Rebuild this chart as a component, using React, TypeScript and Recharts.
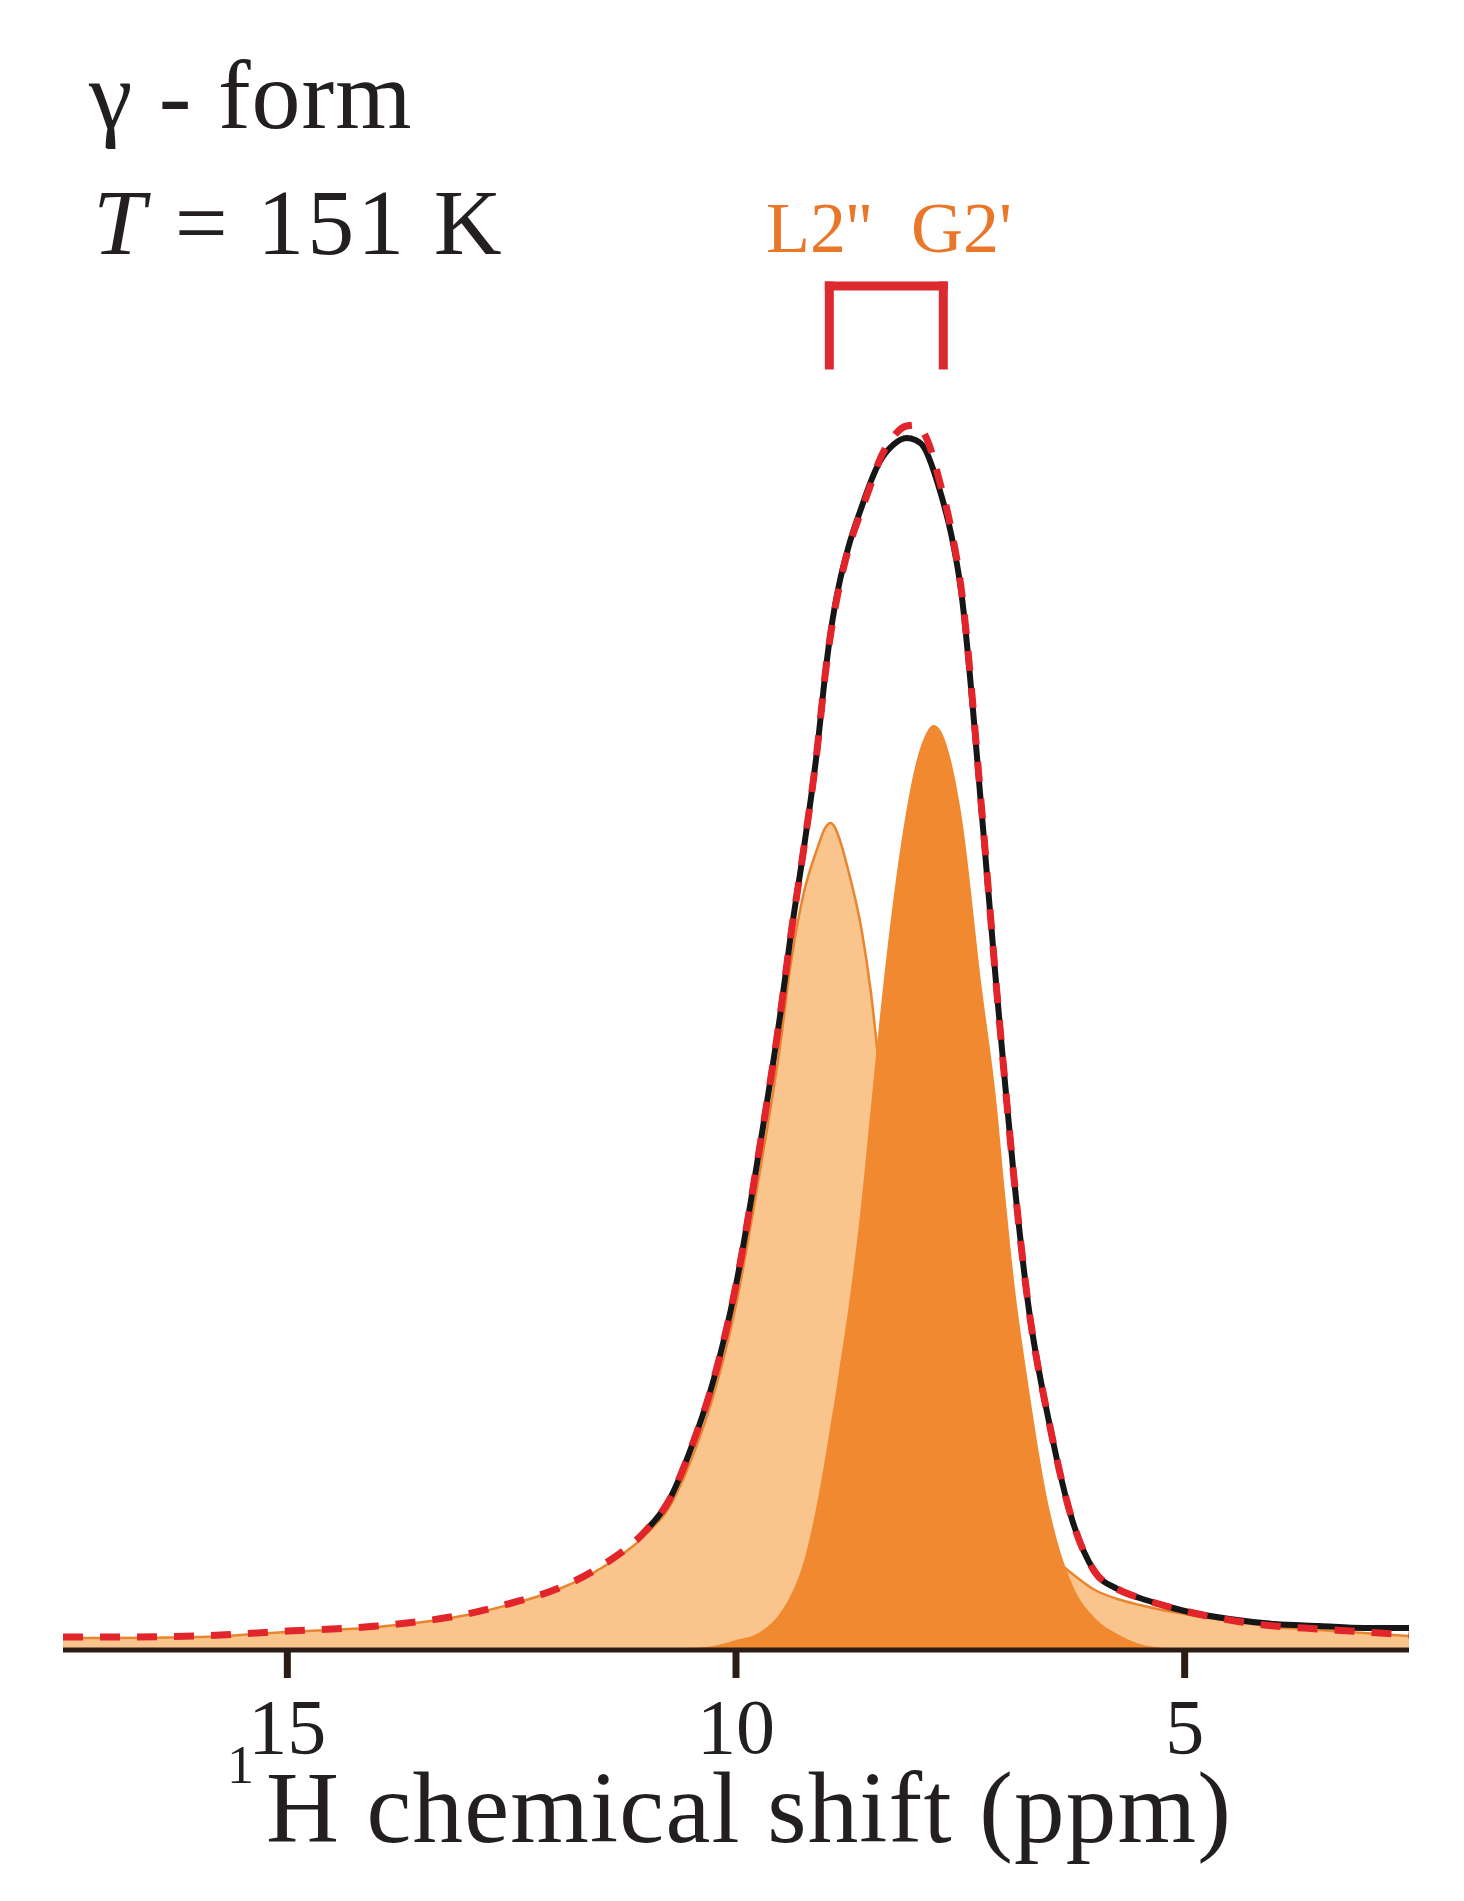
import React from "react"
import {
  ComposedChart,
  Area,
  Line,
  XAxis,
  YAxis,
  ReferenceLine,
} from "recharts"

// ── Data ────────────────────────────────────────────────────────────────────

const PPM = [
  17.5, 17, 16, 15, 14, 13, 12.5, 12, 11.5, 11,
  10.75, 10.5, 10.25, 10, 9.75, 9.5, 9.4, 9.25, 9.1, 9,
  8.95, 8.9, 8.85, 8.75, 8.6, 8.5, 8.4, 8.25, 8.1, 8,
  7.9, 7.8, 7.75, 7.6, 7.5, 7.25, 7.1, 7, 6.9, 6.75,
  6.5, 6.25, 6, 5.75, 5.5, 5.25, 5, 4.5, 4, 3.5,
  3, 2.5,
]

// experimental spectrum (black), only visible from ~11 ppm
const EXPERIMENTAL = [
  null, null, null, null, null, null, null, null, null, 12.0,
  14.9, 20.2, 27.0, 36.5, 49.5, 64.0, 70.8, 79.8, 89.7, 98.0,
  101.5, 104.3, 106.6, 110.2, 114.3, 116.8, 118.8, 120.5, 121.2, 121.0,
  120.2, 118.0, 116.6, 111.5, 106.5, 82.5, 66.5, 56.5, 47.0, 35.0,
  22.3, 12.9, 7.8, 6.1, 5.2, 4.5, 3.9, 3.1, 2.6, 2.4,
  2.2, 2.2,
]

// total fit (red dashed)
const FIT_TOTAL = [
  1.3, 1.3, 1.4, 1.9, 2.4, 3.6, 4.7, 6.1, 8.4, 12.0,
  14.9, 20.2, 27.0, 36.5, 49.5, 64.0, 70.8, 79.8, 89.7, 98.0,
  101.3, 104.0, 106.3, 110.0, 114.0, 116.5, 119.0, 121.3, 122.4, 122.5,
  121.6, 119.2, 117.5, 112.0, 106.8, 82.8, 66.5, 56.5, 47.0, 35.0,
  22.3, 12.9, 7.8, 6.1, 5.2, 4.5, 3.9, 3.0, 2.4, 2.1,
  1.8, 1.5,
]

// L2'' and broad components (light fill)
const L2_BAND = [
  1.2, 1.2, 1.3, 1.8, 2.3, 3.5, 4.6, 6.0, 8.2, 11.6,
  14.2, 19.0, 25.5, 34.5, 47.0, 61.0, 68.0, 75.5, 80.0, 82.3,
  82.7, 82.3, 81.2, 78.0, 72.0, 66.0, 58.0, 47.0, 38.0, 34.0,
  30.5, 27.5, 26.0, 23.0, 21.0, 17.0, 15.5, 14.0, 13.0, 11.5,
  9.5, 7.6, 6.0, 5.1, 4.5, 4.0, 3.6, 2.9, 2.3, 2.0,
  1.7, 1.4,
]

// G2' component (dark fill)
const G2_BAND = [
  0, 0, 0, 0, 0, 0, 0, 0, 0, 0,
  0.1, 0.2, 0.4, 1.0, 1.7, 3.8, 5.3, 8.7, 14.5, 19.5,
  22.3, 25.0, 28.0, 34.0, 45.0, 54.0, 63.0, 74.8, 84.0, 88.5,
  91.3, 92.5, 92.3, 88.8, 84.2, 65.5, 55.0, 45.5, 36.8, 27.0,
  13.8, 6.5, 3.2, 1.6, 0.6, 0.2, 0, 0, 0, 0,
  0, 0,
]

const X_TICKS = [15, 10, 5]

// bracket over the two assigned peaks (ppm / intensity)
const BRACKET_LEFT = 8.96
const BRACKET_RIGHT = 7.69
const BRACKET_TOP = 136.4
const BRACKET_BOTTOM = 128.5

const data = PPM.map((ppm, i) => ({
  ppm,
  exp: EXPERIMENTAL[i],
  fit: FIT_TOTAL[i],
  l2: L2_BAND[i],
  g2: G2_BAND[i],
}))

// ── Style tokens ────────────────────────────────────────────────────────────

const W = 1464
const H = 1901
const SERIF = "'Liberation Serif', 'DejaVu Serif', serif"
const INK = "#231f20"
const AXIS = "#2b1d16"
const LIGHT = "#fac48d"
const LIGHT_EDGE = "#e9852f"
const DARK = "#f0892f"
const RED = "#e2242b"
const LABEL_ORANGE = "#e9772a"

function PpmTick(props: any) {
  const { x, y, payload } = props
  return (
    <text
      x={x}
      y={y + 73}
      textAnchor="middle"
      fontSize={78}
      fontFamily={SERIF}
      fill={INK}
    >
      {payload.value}
    </text>
  )
}

export default function App() {
  const bracketProps = {
    stroke: "#dc2a30",
    strokeWidth: 9,
    strokeLinecap: "square" as const,
  }
  return (
    <div style={{ position: "absolute", left: 0, top: 0, width: W, height: H, background: "#fff" }}>
      <ComposedChart
        width={W}
        height={H}
        data={data}
        margin={{ top: 0, right: 55, bottom: 191, left: 63 }}
      >
        <XAxis
          dataKey="ppm"
          type="number"
          domain={[2.5, 17.5]}
          reversed
          allowDataOverflow
          ticks={X_TICKS}
          height={60}
          stroke={AXIS}
          axisLine={{ stroke: AXIS, strokeWidth: 5 }}
          tickLine={{ stroke: AXIS, strokeWidth: 7 }}
          tickSize={28}
          tick={<PpmTick />}
        />
        <YAxis hide width={0} domain={[0, 165]} type="number" />

        <Line
          dataKey="exp"
          type="monotone"
          stroke="#161616"
          strokeWidth={6}
          dot={false}
          activeDot={false}
          isAnimationActive={false}
        />
        <Area
          dataKey="l2"
          type="monotone"
          fill={LIGHT}
          fillOpacity={1}
          stroke={LIGHT_EDGE}
          strokeWidth={2.5}
          dot={false}
          activeDot={false}
          isAnimationActive={false}
        />
        <Area
          dataKey="g2"
          type="monotone"
          fill={DARK}
          fillOpacity={1}
          stroke="none"
          dot={false}
          activeDot={false}
          isAnimationActive={false}
        />
        <Line
          dataKey="fit"
          type="monotone"
          stroke={RED}
          strokeWidth={7}
          strokeDasharray="20 17"
          dot={false}
          activeDot={false}
          isAnimationActive={false}
        />

        <ReferenceLine
          segment={[{ x: BRACKET_LEFT, y: BRACKET_BOTTOM }, { x: BRACKET_LEFT, y: BRACKET_TOP }]}
          {...bracketProps}
        />
        <ReferenceLine
          segment={[{ x: BRACKET_LEFT, y: BRACKET_TOP }, { x: BRACKET_RIGHT, y: BRACKET_TOP }]}
          {...bracketProps}
        />
        <ReferenceLine
          segment={[{ x: BRACKET_RIGHT, y: BRACKET_TOP }, { x: BRACKET_RIGHT, y: BRACKET_BOTTOM }]}
          {...bracketProps}
        />
      </ComposedChart>

      {/* annotations and axis title */}
      <svg
        width={W}
        height={H}
        style={{ position: "absolute", left: 0, top: 0, pointerEvents: "none" }}
      >
        <text x={89} y={128} fontSize={98} fontFamily={SERIF} fill={INK} letterSpacing={1}>
          γ - form
        </text>
        <text x={93} y={254} fontSize={94} fontFamily={SERIF} fill={INK} letterSpacing={3}>
          <tspan fontStyle="italic">T</tspan> = 151 K
        </text>
        <text x={766} y={252} fontSize={72} fontFamily={SERIF} fill={LABEL_ORANGE}>
          L2''
        </text>
        <text x={911} y={252} fontSize={72} fontFamily={SERIF} fill={LABEL_ORANGE}>
          G2'
        </text>
        <text x={227} y={1783} fontSize={54} fontFamily={SERIF} fill={INK}>
          1
        </text>
        <text x={266} y={1842} fontSize={101} fontFamily={SERIF} fill={INK} letterSpacing={1.2}>
          H chemical shift (ppm)
        </text>
      </svg>
    </div>
  )
}
